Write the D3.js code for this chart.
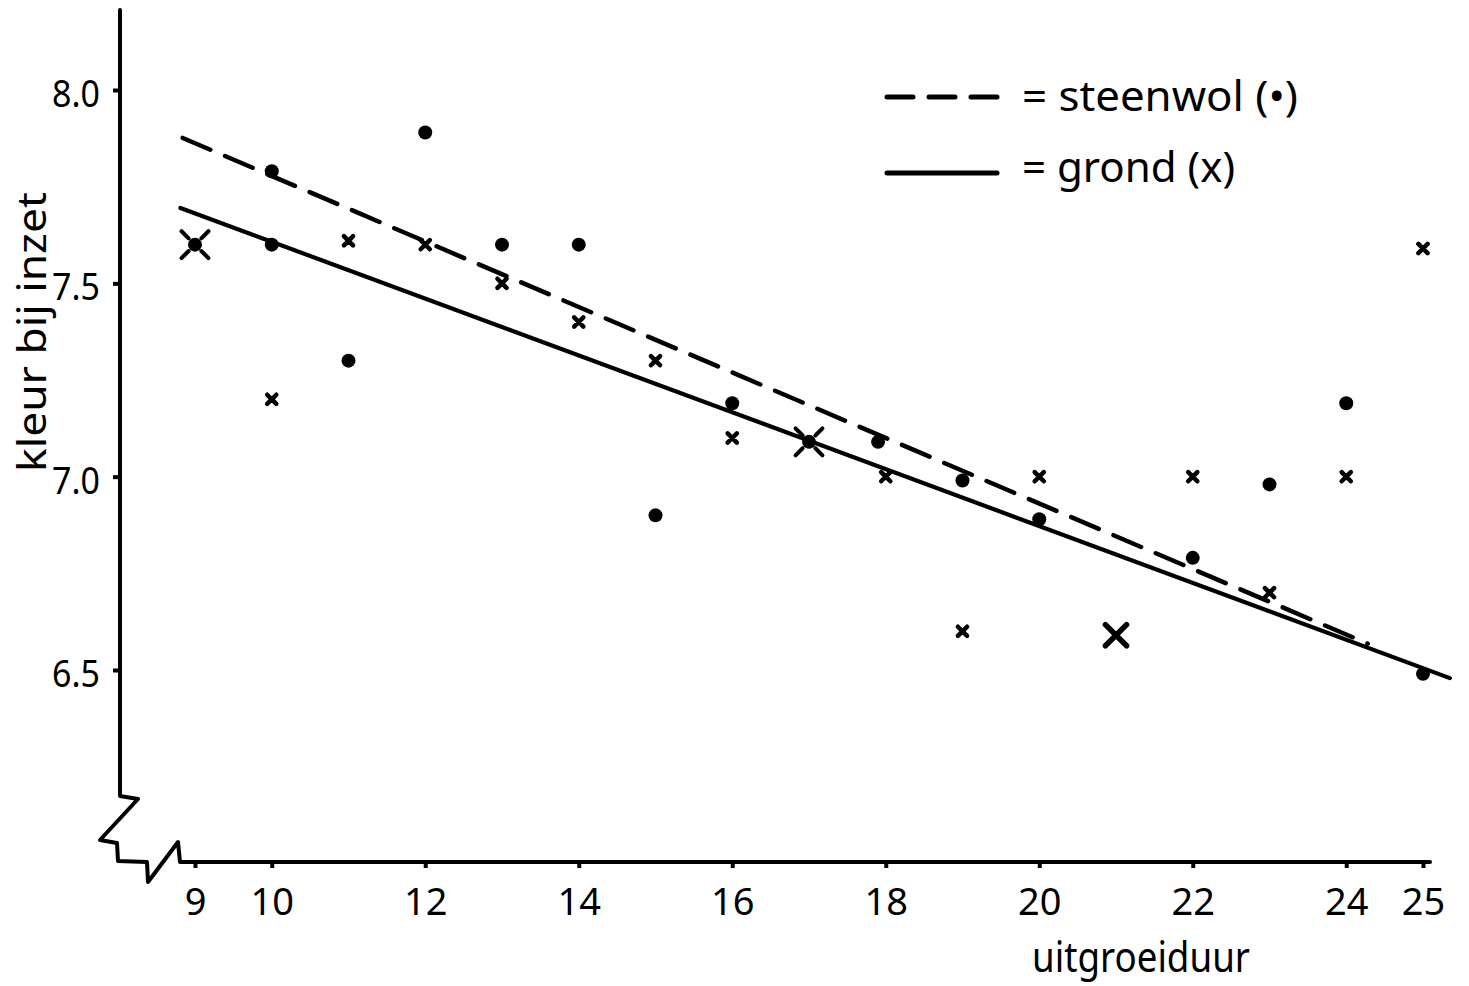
<!DOCTYPE html>
<html>
<head>
<meta charset="utf-8">
<script src="https://cdn.jsdelivr.net/npm/d3@7"></script>
<style>
  html, body { margin: 0; padding: 0; background: #fff; }
  svg { display: block; }
  text { font-family: "Noto Sans", "Open Sans", sans-serif; fill: #000; }
</style>
</head>
<body>
<svg id="chart" width="1469" height="986"></svg>
<script>
// ---- data ----
const xTicks = [9, 10, 12, 14, 16, 18, 20, 22, 24, 25];
const yTicks = [6.5, 7.0, 7.5, 8.0];
const xLabel = "uitgroeiduur";
const yLabel = "kleur bij inzet";
const legendLabels = ["= steenwol (•)", "= grond (x)"];

// steenwol (dots): [uitgroeiduur, kleur]
const steenwol = [
  [9, 7.6], [10, 7.79], [10, 7.6], [11, 7.3], [12, 7.89], [13, 7.6], [14, 7.6],
  [15, 6.9], [16, 7.19], [17, 7.09], [17.9, 7.09], [19, 6.99], [20, 6.89],
  [22, 6.79], [23, 6.98], [24, 7.19], [25, 6.49]
];
// grond (crosses)
const grond = [
  [9, 7.6], [10, 7.2], [11, 7.61], [12, 7.6], [13, 7.5], [14, 7.4], [15, 7.3],
  [16, 7.1], [17, 7.09], [18, 7.0], [19, 6.6], [20, 7.0], [21, 6.59], [21, 6.59],
  [22, 7.0], [23, 6.7], [24, 7.0], [25, 7.59]
];
// fitted regression lines (end points)
const steenwolFit = [[8.84, 7.876], [24.28, 6.568]];
const grondFit = [[8.81, 7.695], [25.35, 6.479]];

// ---- layout ----
const svg = d3.select("#chart");
const x = d3.scaleLinear().domain([9, 25]).range([195, 1423]);
const y = d3.scaleLinear().domain([6.5, 8.0]).range([670, 90]);
const axisY = 862, axisX = 120;
const ink = "#000";

// axes lines with break
svg.append("path")
  .attr("d", `M${axisX},10 V796 L138,799 L100,840 L117,843 L118,861 L147,862 L148,882 L178,842 L180,${axisY} H1430`)
  .attr("fill", "none").attr("stroke", ink).attr("stroke-width", 4)
  .attr("stroke-linejoin", "round").attr("stroke-linecap", "round");

// y axis ticks + labels
const yAxis = svg.append("g").attr("transform", `translate(${axisX},0)`)
  .call(d3.axisLeft(y).tickValues(yTicks).tickSize(7).tickPadding(12).tickFormat(d3.format(".1f")));
yAxis.select(".domain").remove();
yAxis.selectAll(".tick line").attr("stroke", ink).attr("stroke-width", 4);
yAxis.selectAll(".tick text")
  .attr("font-size", 39).attr("font-family", "'Noto Sans', sans-serif")
  .attr("dy", "0.42em").attr("x", -20)
  .attr("textLength", 48).attr("lengthAdjust", "spacingAndGlyphs");

// x axis ticks + labels
const xAxis = svg.append("g").attr("transform", `translate(0,${axisY})`)
  .call(d3.axisBottom(x).tickValues(xTicks).tickSize(6).tickFormat(d3.format("d")));
xAxis.select(".domain").remove();
xAxis.selectAll(".tick line").attr("stroke", ink).attr("stroke-width", 4);
xAxis.selectAll(".tick text")
  .attr("font-size", 38).attr("font-family", "'Noto Sans', sans-serif")
  .attr("y", 53).attr("dy", 0);

// axis titles
svg.append("text").text(xLabel)
  .attr("x", 1032).attr("y", 972).attr("font-size", 42)
  .attr("textLength", 218).attr("lengthAdjust", "spacingAndGlyphs");
svg.append("text").text(yLabel)
  .attr("transform", "translate(46,332) rotate(-90)")
  .attr("text-anchor", "middle").attr("font-size", 40)
  .attr("textLength", 280).attr("lengthAdjust", "spacingAndGlyphs");

// regression lines
const line = d3.line().x(d => x(d[0])).y(d => y(d[1]));
svg.append("path").datum(steenwolFit).attr("d", line)
  .attr("fill", "none").attr("stroke", ink).attr("stroke-width", 4.5)
  .attr("stroke-dasharray", "30,16").attr("stroke-linecap", "round");
svg.append("path").datum(grondFit).attr("d", line)
  .attr("fill", "none").attr("stroke", ink).attr("stroke-width", 4.2)
  .attr("stroke-linecap", "round");

// markers
const key = d => d[0] + "|" + d[1];
const steenKeys = new Set(steenwol.map(key));
const grondCount = d3.rollup(grond, v => v.length, key);

// dots
svg.append("g").selectAll("circle").data(steenwol).join("circle")
  .attr("cx", d => x(d[0])).attr("cy", d => y(d[1])).attr("r", 7).attr("fill", ink);

// crosses
const uniqueGrond = Array.from(new Map(grond.map(d => [key(d), d])).values());
const gX = svg.append("g").attr("stroke", ink).attr("stroke-linecap", "round").attr("fill", "none");
uniqueGrond.forEach(d => {
  const cx = x(d[0]), cy = y(d[1]);
  const coincident = steenKeys.has(key(d));
  const dup = grondCount.get(key(d)) > 1;
  let r0 = 0, r1 = 6.5, sw = 4.5;
  if (coincident) { r0 = 9; r1 = 19; sw = 4; }
  else if (dup) { r0 = 0; r1 = 15; sw = 5.5; }
  const p = d3.path();
  [[1, 1], [1, -1], [-1, 1], [-1, -1]].forEach(([sx, sy]) => {
    const k = Math.SQRT1_2;
    p.moveTo(cx + sx * r0 * k, cy + sy * r0 * k);
    p.lineTo(cx + sx * r1 * k, cy + sy * r1 * k);
  });
  gX.append("path").attr("d", p.toString()).attr("stroke-width", sw);
});

// legend
const legend = svg.append("g");
legend.append("line").attr("x1", 887).attr("x2", 997).attr("y1", 97).attr("y2", 97)
  .attr("stroke", ink).attr("stroke-width", 5).attr("stroke-dasharray", "26,16").attr("stroke-linecap", "round");
legend.append("line").attr("x1", 887).attr("x2", 997).attr("y1", 173).attr("y2", 173)
  .attr("stroke", ink).attr("stroke-width", 5).attr("stroke-linecap", "round");
legend.append("text").text(legendLabels[0]).attr("x", 1022).attr("y", 111)
  .attr("font-size", 42).attr("textLength", 276).attr("lengthAdjust", "spacingAndGlyphs");
legend.append("text").text(legendLabels[1]).attr("x", 1022).attr("y", 182)
  .attr("font-size", 42).attr("textLength", 213).attr("lengthAdjust", "spacingAndGlyphs");
</script>
</body>
</html>
